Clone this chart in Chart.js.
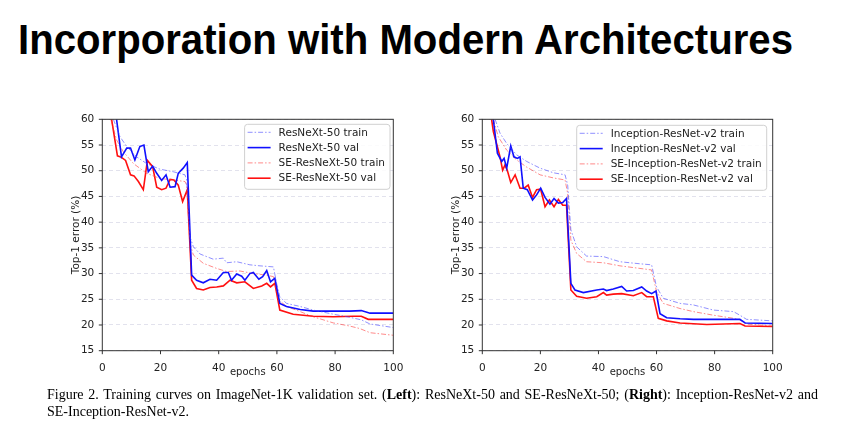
<!DOCTYPE html>
<html>
<head>
<meta charset="utf-8">
<script src="https://cdn.jsdelivr.net/npm/chart.js@4/dist/chart.umd.min.js"></script>
<style>
  body { margin: 0; background: #fff; width: 843px; height: 431px; overflow: hidden; position: relative; }
  #title { position: absolute; left: 18px; top: 15px; font: bold 43px "Liberation Sans", Arial, sans-serif; white-space: nowrap; transform-origin: 0 0; color: #000; }
  canvas { position: absolute; }
  #caption { position: absolute; left: 47px; top: 386px; width: 771px; font: 14px "Liberation Serif", "Times New Roman", serif; line-height: 17px; text-align: justify; color: #000; }
  .nw { white-space: nowrap; }
</style>
</head>
<body>
<div id="title">Incorporation with Modern Architectures</div>
<canvas id="leftChart" width="370" height="290" style="left:40px; top:100px;"></canvas>
<canvas id="rightChart" width="370" height="290" style="left:420px; top:100px;"></canvas>
<div id="caption">Figure 2. Training curves on ImageNet-1K validation set. (<b>Left</b>): ResNeXt-50 and SE-ResNeXt-50; (<b>Right</b>): Inception-ResNet-v2 and <span class="nw">SE-Inception-ResNet-v2.</span></div>

<script>
// ---- data (epoch, top-1 error %) ----
const xTicks = [0, 20, 40, 60, 80, 100];
const yTicks = [15, 20, 25, 30, 35, 40, 45, 50, 55, 60];

// left: ResNeXt-50
const rxTrainEpochs = [3.8, 6.1, 8.4, 11.8, 15.2, 19.8, 24.4, 28.4, 29, 30.1, 31.3, 33.6, 38.1, 41.6, 42.7, 46.2, 50.7, 54.2, 58.8, 59.9, 61, 63.3, 68, 72.5, 79.4, 85, 89, 92, 100];
const rxTrainErr = [60, 56.6, 54.7, 52.7, 51.4, 50.3, 49.8, 49.2, 48.2, 37.2, 35.2, 33.8, 32.8, 33, 32.1, 32.3, 31.7, 31.5, 31.3, 28.1, 25.5, 24.2, 23.6, 22.9, 22.1, 21.5, 21, 20.2, 19.5];
const rxValEpochs = [4.9, 6.6, 8.4, 9.7, 11.2, 12.9, 14.3, 15.8, 17.3, 18.7, 20.4, 21.9, 23.3, 25, 26.1, 27.8, 29.2, 30.7, 32.4, 34.7, 37, 39.3, 41.6, 43.3, 44.4, 46.2, 47.9, 49, 50.7, 51.9, 53.8, 55.1, 56.5, 57.8, 59.3, 61, 63.3, 68, 72.5, 79.4, 85, 89, 92, 100];
const rxValErr = [60, 52.7, 54.4, 54.4, 52.1, 54.7, 55.0, 49.8, 50.9, 49.5, 48.1, 49.2, 46.8, 46.9, 49.5, 50.5, 51.6, 29.7, 28.7, 28.2, 28.9, 28.7, 30.2, 30.2, 28.7, 29.9, 29.5, 28.7, 30, 30.2, 28.9, 29.4, 30.6, 28.4, 29.1, 24.2, 23.6, 23.0, 22.7, 22.7, 22.7, 22.8, 22.3, 22.3];
const seRxTrainEpochs = [2.9, 4.9, 7.2, 10.7, 15.2, 19.8, 24.4, 28.4, 29, 30.1, 31.3, 34.7, 39.3, 42.7, 47.3, 51.9, 56.5, 58.8, 60.5, 63.3, 68, 72.5, 79.4, 85, 88.5, 92, 100];
const seRxTrainErr = [60, 56, 53.7, 51.4, 49.5, 48.5, 48.2, 47.9, 47.2, 35.9, 33.6, 32, 31, 30.4, 30.5, 30, 29.7, 29.4, 24.9, 23.6, 22.6, 21.6, 20.4, 19.8, 19.3, 18.5, 18.0];
const seRxValEpochs = [3.2, 5.2, 6.6, 8, 9.7, 10.9, 12.4, 14.1, 15.5, 17.3, 18.7, 20.4, 21.9, 23.3, 24.6, 26.1, 27.6, 29.2, 30.7, 32.4, 34.7, 37, 39.3, 41.6, 43.9, 46.2, 49, 51.9, 54.8, 56.5, 57.8, 59.3, 61, 65.6, 72.5, 79.4, 86.3, 89, 91.4, 100];
const seRxValErr = [60, 52.9, 52.6, 52.0, 49.2, 49, 47.9, 46.3, 52, 50.8, 46.8, 46.3, 46.6, 48.3, 48.2, 47.2, 44, 46.3, 28.7, 27.1, 26.8, 27.3, 27.4, 27.6, 28.7, 28.2, 28.4, 27.1, 27.6, 28.1, 27.4, 28.1, 22.9, 22.1, 21.7, 21.6, 21.7, 21.7, 21.1, 21.1];

// right: Inception-ResNet-v2
const irTrainEpochs = [4.4, 6.1, 8.4, 11.8, 15.3, 19.9, 24.5, 28.5, 29.4, 30.5, 32.5, 35.9, 41.7, 47.4, 54.3, 58.3, 60, 62.3, 68.1, 72.7, 79.6, 86.5, 88.7, 91, 100];
const irTrainErr = [60, 57.3, 55.3, 53.1, 51.8, 50.5, 49.6, 49.2, 47.2, 38.5, 35.2, 33.4, 33.3, 32.3, 31.9, 31.7, 27.4, 25.2, 24.2, 23.9, 22.9, 22.6, 21.9, 21.1, 20.8];
const irValEpochs = [3.8, 5.2, 6.7, 7.5, 8.4, 9.8, 10.9, 12.1, 13, 14.1, 15.5, 17.3, 18.7, 20.1, 21.6, 23.3, 24.7, 26.2, 27.7, 29, 30.5, 31.9, 34.8, 39.4, 41.7, 42.8, 45.1, 48, 49.7, 52, 54.9, 56.6, 58.3, 59.8, 61.2, 63.5, 68.1, 72.7, 79.6, 88.7, 90.5, 100];
const irValErr = [60, 53.4, 51.8, 52.4, 50.5, 54.8, 52.7, 52.4, 52.7, 46.6, 46.3, 44.3, 45.3, 46.6, 44.8, 43.5, 44.6, 43.7, 43.8, 44.6, 28.1, 26.8, 26.3, 26.8, 27, 26.7, 27, 27.5, 26.6, 26.7, 27.4, 26.6, 26.1, 26.6, 22.2, 21.4, 21.2, 21.1, 21.1, 21.1, 20.4, 20.3];
const seIrTrainEpochs = [3.8, 5.5, 8.4, 11.8, 15.3, 19.9, 24.5, 28.5, 29.4, 30.5, 32.5, 35.9, 41.7, 47.4, 54.3, 58.3, 60, 62.3, 68.1, 72.7, 79.6, 86.5, 88.7, 91, 100];
const seIrTrainErr = [60, 56.6, 54, 52.1, 50.7, 49.2, 48.6, 48.2, 45.6, 36.5, 33.9, 32.3, 32.1, 31.5, 31, 30.7, 26.5, 24.2, 23.2, 22.6, 21.9, 21.3, 21, 20.2, 19.8];
const seIrValEpochs = [3.2, 3.8, 4.9, 6.1, 7, 7.8, 8.6, 9.8, 11.3, 13, 14.4, 15.8, 17.3, 18.7, 20.1, 21.6, 23.1, 24.7, 26.2, 27.7, 29, 30.5, 32.5, 35.9, 39.4, 41.7, 42.8, 45.1, 48, 52, 54.9, 56.6, 58.9, 60.6, 63.5, 68.1, 77.3, 88.7, 90.5, 100];
const seIrValErr = [60, 57.6, 55.3, 52.7, 50.1, 51.1, 50.1, 47.7, 49.2, 46.6, 46.6, 47.2, 44.8, 46.3, 46.4, 43, 44.3, 43, 44.4, 43.3, 43.3, 26.8, 25.6, 25.2, 25.5, 26.3, 25.8, 26, 26.1, 25.7, 26.3, 25.5, 25.5, 21.3, 20.8, 20.4, 20.1, 20.3, 19.8, 19.7];

const FONT = '"DejaVu Sans", sans-serif';
const FS = 10.5;
const DASH_DOT = [5, 2, 1.5, 2];

// fit title to its width in the reference
const titleEl = document.getElementById("title");
titleEl.style.transform = `scaleX(${775 / titleEl.getBoundingClientRect().width})`;

const zip = (xs, ys) => xs.map((x, i) => ({ x: x, y: ys[i] }));

const trainSet = (label, xs, ys, color) => ({
  label, data: zip(xs, ys), borderColor: color, borderWidth: 1,
  borderDash: DASH_DOT, pointRadius: 0, tension: 0,
});
const valSet = (label, xs, ys, color) => ({
  label, data: zip(xs, ys), borderColor: color, borderWidth: 1.6,
  pointRadius: 0, tension: 0,
});

// frame, tick marks and the in-plot legend
const framePlugin = {
  id: "frame",
  afterDraw(chart) {
    const { ctx, chartArea: a, scales } = chart;
    ctx.save();
    ctx.strokeStyle = "#333";
    ctx.lineWidth = 1;
    ctx.strokeRect(a.left, a.top, a.right - a.left, a.bottom - a.top);
    ctx.beginPath();
    yTicks.forEach((v) => {
      const y = scales.y.getPixelForValue(v);
      ctx.moveTo(a.left - 3.5, y);
      ctx.lineTo(a.left, y);
    });
    xTicks.forEach((v) => {
      const x = scales.x.getPixelForValue(v);
      ctx.moveTo(x, a.bottom);
      ctx.lineTo(x, a.bottom + 3.5);
    });
    ctx.stroke();

    // legend box at top right
    const opts = chart.options.plugins.frame;
    ctx.font = FS + "px " + FONT;
    const sets = chart.data.datasets;
    const textW = Math.max(...sets.map((d) => ctx.measureText(d.label).width));
    const w = 34 + textW + 5, h = 65;
    const bx = a.right - opts.right - w, by = a.top + opts.top;
    ctx.beginPath();
    ctx.roundRect(bx, by, w, h, 3);
    ctx.fillStyle = "rgba(255,255,255,0.85)";
    ctx.fill();
    ctx.strokeStyle = "#d0d0d0";
    ctx.stroke();
    sets.forEach((d, i) => {
      const y = by + 8 + i * 15.3;
      ctx.beginPath();
      ctx.setLineDash(d.borderDash || []);
      ctx.strokeStyle = d.borderColor;
      ctx.lineWidth = d.borderWidth;
      ctx.moveTo(bx + 3, y);
      ctx.lineTo(bx + 26, y);
      ctx.stroke();
      ctx.setLineDash([]);
      ctx.fillStyle = "#222";
      ctx.textBaseline = "middle";
      ctx.fillText(d.label, bx + 34, y + 0.5);
    });
    ctx.restore();
  },
};

function makeChart(id, datasets, padRight, legendRight, legendTop) {
  const ctx = document.getElementById(id).getContext("2d");
  return new Chart(ctx, {
    type: "line",
    data: { datasets },
    options: {
      responsive: false,
      animation: false,
      layout: { padding: { left: 0, top: 19.3, right: padRight, bottom: 0 } },
      plugins: {
        legend: { display: false },
        tooltip: { enabled: false },
        frame: { right: legendRight, top: legendTop },
      },
      scales: {
        x: {
          type: "linear", min: 0, max: 100,
          afterBuildTicks: (s) => { s.ticks = xTicks.map((v) => ({ value: v })); },
          grid: { display: false },
          border: { display: false },
          ticks: { color: "#222", padding: 3, maxRotation: 0, font: { family: FONT, size: FS } },
          title: { display: true, text: "epochs", color: "#222", padding: { top: 0, bottom: 11.2 }, font: { family: FONT, size: FS - 0.5 } },
          afterFit: (s) => { s.height = 39.3; },
        },
        y: {
          min: 15, max: 60,
          afterBuildTicks: (s) => { s.ticks = yTicks.map((v) => ({ value: v })); },
          grid: { color: "rgba(190,190,215,0.45)", drawTicks: false },
          border: { display: false, dash: [4, 3] },
          ticks: { color: "#222", padding: 8, font: { family: FONT, size: FS } },
          title: { display: true, text: "Top-1 error (%)", color: "#222", padding: { top: 29.5, bottom: 0 }, font: { family: FONT, size: FS } },
          afterFit: (s) => { s.width = 62.3; },
        },
      },
    },
    plugins: [framePlugin],
  });
}

makeChart("leftChart", [
  trainSet("ResNeXt-50 train", rxTrainEpochs, rxTrainErr, "rgba(70,70,255,0.6)"),
  valSet("ResNeXt-50 val", rxValEpochs, rxValErr, "#1010ff"),
  trainSet("SE-ResNeXt-50 train", seRxTrainEpochs, seRxTrainErr, "rgba(255,60,60,0.6)"),
  valSet("SE-ResNeXt-50 val", seRxValEpochs, seRxValErr, "#ff1010"),
], 16.7, 3.3, 5);

makeChart("rightChart", [
  trainSet("Inception-ResNet-v2 train", irTrainEpochs, irTrainErr, "rgba(70,70,255,0.6)"),
  valSet("Inception-ResNet-v2 val", irValEpochs, irValErr, "#1010ff"),
  trainSet("SE-Inception-ResNet-v2 train", seIrTrainEpochs, seIrTrainErr, "rgba(255,60,60,0.6)"),
  valSet("SE-Inception-ResNet-v2 val", seIrValEpochs, seIrValErr, "#ff1010"),
], 17.3, 6, 6);
</script>
</body>
</html>
